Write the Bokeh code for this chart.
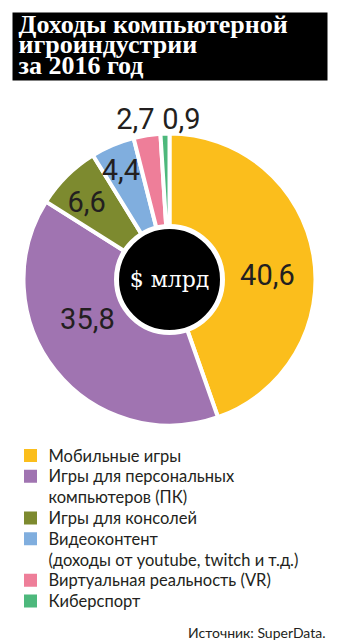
import math
from bokeh.plotting import figure
from bokeh.models import ColumnDataSource, Range1d
from bokeh.core.properties import value
from bokeh.embed import file_html
from bokeh.resources import INLINE

# ---- data ----
title_lines = ["Доходы компьютерной", "игроиндустрии", "за 2016 год"]
categories = ["Мобильные игры",
              "Игры для персональных\nкомпьютеров (ПК)",
              "Игры для консолей",
              "Видеоконтент\n(доходы от youtube, twitch и т.д.)",
              "Виртуальная реальность (VR)",
              "Киберспорт"]
values = [40.6, 35.8, 6.6, 4.4, 2.7, 0.9]
value_labels = ["40,6", "35,8", "6,6", "4,4", "2,7", "0,9"]
center_label = "$ млрд"
source_text = "Источник: SuperData."

# ---- styles / layout ----
colors = ["#FBBE1C", "#A074B1", "#7D8A2F", "#80AEDE", "#EE7E99", "#4DB87C"]
label_r = [98, 91, 114, 120, 165, 161]        # label distance from centre
label_nudge = [7, 13, -2, -1, -3, 6]         # degrees, clockwise
W, H = 337, 644
CX, CY = 169, 279
R = 146
TXT = "#231F20"


def Y(y):
    return H - y


p = figure(width=W, height=H, x_range=Range1d(0, W), y_range=Range1d(0, H),
           output_backend="svg", toolbar_location=None, min_border=0)
p.xaxis.visible = False
p.yaxis.visible = False
p.grid.visible = False
p.outline_line_color = None
p.background_fill_color = "white"
p.border_fill_color = "white"

# title box
p.quad(left=12, right=327, top=Y(12), bottom=Y(80), fill_color="black", line_color=None)
p.text(x=[18] * 3, y=[Y(24), Y(44), Y(65)], text=title_lines,
       text_font=value("Liberation Serif"), text_font_style="bold",
       text_font_size="26px", text_color="white", text_baseline="middle")

# pie
total = sum(values)
starts, ends, mids = [], [], []
cum = 0.0
for v in values:
    a0 = cum / total * 360
    cum += v
    a1 = cum / total * 360
    starts.append(math.radians(90 - a1))
    ends.append(math.radians(90 - a0))
    mids.append((a0 + a1) / 2)
src = ColumnDataSource(dict(start=starts, end=ends, color=colors))
p.wedge(x=CX, y=Y(CY), radius=R, start_angle="start", end_angle="end",
        fill_color="color", line_color="white", line_width=4, source=src)

p.circle(x=[CX], y=[Y(CY)], radius=53, fill_color="black", line_color="white", line_width=5)
p.text(x=[CX], y=[Y(CY)], text=[center_label], text_font=value("DejaVu Serif"),
       text_font_size="22px", text_color="white", text_align="center", text_baseline="middle")

lx, ly = [], []
for m, r, n in zip(mids, label_r, label_nudge):
    a = math.radians(m + n)
    lx.append(CX + r * math.sin(a))
    ly.append(Y(CY) + r * math.cos(a))
p.text(x=lx, y=ly, text=value_labels, text_font=value("Roboto"), text_font_size="29px",
       text_color=TXT, text_align="center", text_baseline="middle")

# legend
pitch = 20.8
row = 0
sq_y, tx, ty, tt = [], [], [], []
for c in categories:
    lines = c.split("\n")
    sq_y.append(Y(455 + row * pitch))
    for ln in lines:
        tx.append(48)
        ty.append(Y(455 + row * pitch))
        tt.append(ln)
        row += 1
p.rect(x=[30] * len(categories), y=sq_y, width=13, height=13, fill_color=colors, line_color=None)
p.text(x=tx, y=ty, text=tt, text_font=value("Lato"), text_font_size="16.5px",
       text_color=TXT, text_baseline="middle")

p.text(x=[325], y=[Y(632)], text=[source_text], text_font=value("Lato"),
       text_font_size="14px", text_color=TXT, text_align="right", text_baseline="middle")

open("out.html", "w").write(file_html(p, INLINE))
